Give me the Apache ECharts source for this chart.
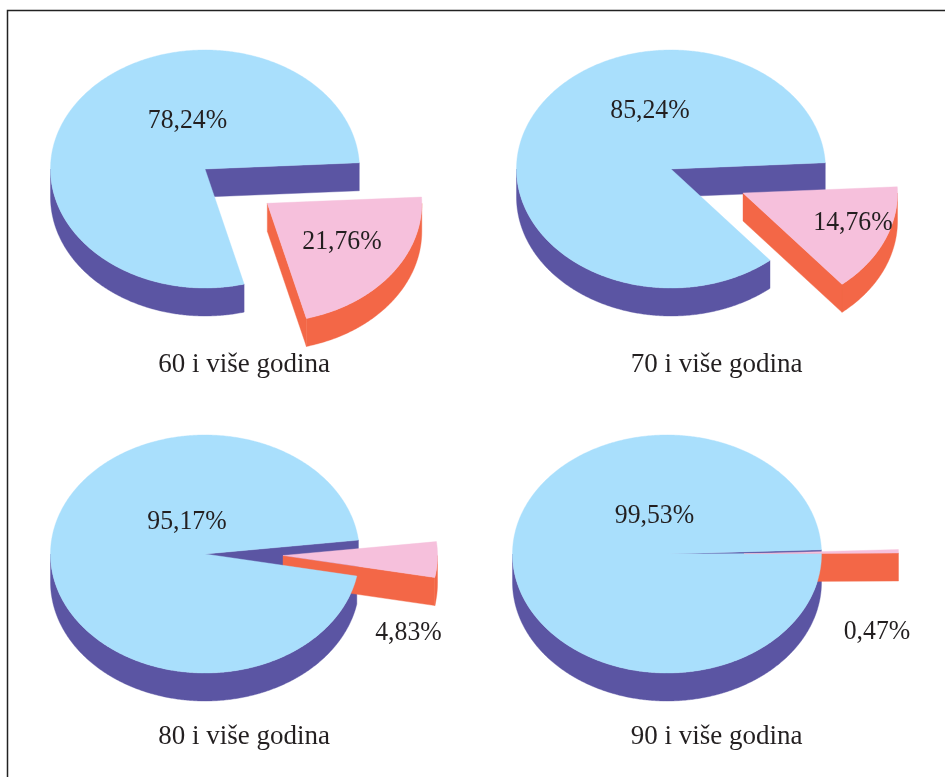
<!DOCTYPE html>
<html>
<head>
<meta charset="utf-8">
<style>html,body{margin:0;padding:0;background:#fff}#c{width:945px;height:777px}</style>
<script src="https://cdn.jsdelivr.net/npm/echarts@6/dist/echarts.min.js"></script>
</head>
<body>
<div id="c"></div>
<script>
// data
const categories = ['60 i više godina', '70 i više godina', '80 i više godina', '90 i više godina'];
const majorShares = [78.24, 85.24, 95.17, 99.53];
const minorShares = [21.76, 14.76, 4.83, 0.47];

// layout (pixels / degrees)
const RX = 154.5, RY = 119, DEPTH = 28;
const centers = [[205, 169], [671, 169], [205, 554], [667, 554]];
const explode = [[62.3, 34.3], [72, 24], [78, 1.5], [77, -0.3]];
const startDeg = [3, 3, 6.7, 2];
const majorLabelPos = [[187.5, 120.5], [650, 111], [187, 521.5], [654.5, 515.5]];
const minorLabelPos = [[342, 241.5], [853, 222.5], [408.5, 632.5], [877, 631.5]];
const captionPos = [[244, 364.5], [716.5, 364.5], [244, 737], [716.5, 737]];
const COL = { top: '#A9DFFC', side: '#5B55A3', minorTop: '#F6C0DC', minorSide: '#F36747', text: '#231F20' };
const FONT = '"Liberation Serif","Times New Roman",serif';

function pt(c, deg) {
  const t = deg * Math.PI / 180;
  return [c[0] + RX * Math.cos(t), c[1] - RY * Math.sin(t)];
}
function arc(c, a, b) {
  const n = Math.max(2, Math.ceil(Math.abs(b - a) / 0.5));
  const out = [];
  for (let i = 0; i <= n; i++) out.push(pt(c, a + (b - a) * i / n));
  return out;
}
function down(p) { return [p[0], p[1] + DEPTH]; }
function poly(points, fill, z2) {
  return { type: 'polygon', shape: { points }, style: { fill, stroke: fill, lineWidth: 0.4 }, z2 };
}
function band(c, a, b, fill, z2) {
  const rim = arc(c, a, b);
  return poly(rim.concat(rim.map(down).reverse()), fill, z2);
}
function edgeWall(c, deg, fill, z2) {
  const p = pt(c, deg);
  return poly([c, p, down(p), down(c)], fill, z2);
}
function label(pos, value, z2) {
  return { type: 'text', z2, x: pos[0], y: pos[1], scaleX: 0.92, style: {
    x: 0, y: 0, text: value.toFixed(2).replace('.', ',') + '%',
    font: '28px ' + FONT, fill: COL.text, align: 'center', verticalAlign: 'middle' } };
}

function renderSlice(panel) {
  return function (params, api) {
    const share = api.value(0);
    const s = startDeg[panel];
    const children = [];
    if (params.dataIndex === 0) {
      const c = centers[panel];
      const end = s + share * 3.6;            // counter-clockwise, over the top
      children.push(band(c, -180, end - 360, COL.side, 1));
      children.push(edgeWall(c, s, COL.side, 1));
      children.push(poly([c].concat(arc(c, s, end)), COL.top, 3));
      children.push(label(majorLabelPos[panel], share, 5));
    } else {
      const base = centers[panel], off = explode[panel];
      const c = [base[0] + off[0], base[1] + off[1]];
      const end = s - share * 3.6;            // clockwise
      if (end < 0) children.push(band(c, Math.min(s, 0), end, COL.minorSide, 2));
      children.push(edgeWall(c, end, COL.minorSide, 2));
      children.push(poly([c].concat(arc(c, s, end)), COL.minorTop, 4));
      children.push(label(minorLabelPos[panel], share, 5));
    }
    return { type: 'group', children };
  };
}

const chart = echarts.init(document.getElementById('c'), null, { renderer: 'canvas' });
chart.setOption({
  animation: false,
  backgroundColor: '#fff',
  title: categories.map((name, i) => ({
    text: name, left: captionPos[i][0], top: captionPos[i][1] - 14, textAlign: 'center', padding: 0,
    textStyle: { fontFamily: FONT, fontSize: 27, fontWeight: 'normal', color: COL.text, lineHeight: 28 }
  })),
  graphic: [
    { type: 'polyline', shape: { points: [[7.5, 777], [7.5, 10.5], [945, 10.5]] },
      style: { stroke: '#222', lineWidth: 1.5, fill: null } }
  ],
  series: categories.map((name, i) => ({
    type: 'custom', name, coordinateSystem: 'none', silent: true,
    renderItem: renderSlice(i),
    data: [[majorShares[i]], [minorShares[i]]]
  }))
});
</script>
</body>
</html>
